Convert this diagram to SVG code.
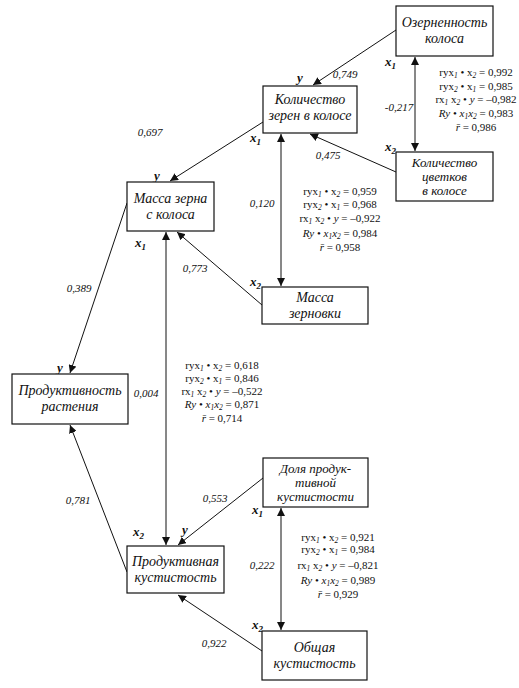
<svg xmlns="http://www.w3.org/2000/svg" width="519" height="688" viewBox="0 0 519 688">
<defs>
<marker id="ah" viewBox="0 0 10 10" refX="10" refY="5" markerWidth="8" markerHeight="8" markerUnits="userSpaceOnUse" orient="auto-start-reverse">
<path d="M0,0 L10,5 L0,10 Z" fill="#111"/>
</marker>
<style>
.box{fill:#fff;stroke:#111;stroke-width:1.2}
.nt{font-family:"Liberation Serif","DejaVu Serif",serif;font-style:italic;font-size:14px;fill:#111;text-anchor:middle}
.n3{font-size:13px}
.cl{font-family:"Liberation Serif","DejaVu Serif",serif;font-style:italic;font-size:11px;fill:#111;text-anchor:middle}
.vl{font-family:"Liberation Serif","DejaVu Serif",serif;font-style:italic;font-weight:bold;font-size:13px;fill:#111}
.st{font-family:"Liberation Serif","DejaVu Serif",serif;font-size:11px;fill:#111;text-anchor:middle}
.i{font-style:italic}
.s{font-size:7.5px;font-style:italic}
.c{stroke:#111;stroke-width:1;fill:none;marker-end:url(#ah)}
.d{marker-start:url(#ah)}
</style>
</defs>
<rect width="519" height="688" fill="#fff"/>

<g id="connectors">
<line class="c" x1="396" y1="30" x2="313" y2="85"/>
<line class="c d" x1="415" y1="57" x2="415" y2="151"/>
<line class="c" x1="396" y1="172" x2="310" y2="134"/>
<line class="c d" x1="281" y1="134" x2="281" y2="286"/>
<line class="c" x1="263" y1="122" x2="170" y2="181"/>
<line class="c" x1="262" y1="305" x2="177" y2="232"/>
<line class="c" x1="127" y1="203" x2="70" y2="373"/>
<line class="c d" x1="166" y1="232" x2="166" y2="545"/>
<line class="c" x1="127" y1="572" x2="70" y2="425"/>
<line class="c" x1="263" y1="478" x2="178" y2="545"/>
<line class="c d" x1="281" y1="508" x2="281" y2="630"/>
<line class="c" x1="262" y1="651" x2="178" y2="595"/>
</g>

<g id="coef-labels">
<text class="cl" x="345" y="78">0,749</text>
<text class="cl" x="399" y="111">-0,217</text>
<text class="cl" x="328" y="159">0,475</text>
<text class="cl" x="262" y="207">0,120</text>
<text class="cl" x="150" y="136">0,697</text>
<text class="cl" x="195" y="272">0,773</text>
<text class="cl" x="79" y="292">0,389</text>
<text class="cl" x="146" y="397">0,004</text>
<text class="cl" x="78" y="504">0,781</text>
<text class="cl" x="215" y="502">0,553</text>
<text class="cl" x="262" y="569">0,222</text>
<text class="cl" x="214" y="647">0,922</text>
</g>

<g id="var-labels">
<text class="vl" x="385" y="66">x<tspan font-size="9" dy="3">1</tspan></text>
<text class="vl" x="385" y="151">x<tspan font-size="9" dy="3">2</tspan></text>
<text class="vl" x="297" y="82">y</text>
<text class="vl" x="250" y="142">x<tspan font-size="9" dy="3">1</tspan></text>
<text class="vl" x="154" y="180">y</text>
<text class="vl" x="135" y="247">x<tspan font-size="9" dy="3">1</tspan></text>
<text class="vl" x="250" y="286">x<tspan font-size="9" dy="3">2</tspan></text>
<text class="vl" x="57" y="372">y</text>
<text class="vl" x="133" y="536">x<tspan font-size="9" dy="3">2</tspan></text>
<text class="vl" x="182" y="534">y</text>
<text class="vl" x="252" y="514">x<tspan font-size="9" dy="3">1</tspan></text>
<text class="vl" x="252" y="629">x<tspan font-size="9" dy="3">2</tspan></text>
</g>

<g id="node-ozer">
<rect class="box" x="396" y="6" width="97" height="50"/>
<text class="nt" x="444.5" y="27">Озерненность</text>
<text class="nt" x="444.5" y="43">колоса</text>
</g>
<g id="node-kolzeren">
<rect class="box" x="263" y="86" width="94" height="47"/>
<text class="nt" x="310" y="104">Количество</text>
<text class="nt" x="310" y="120">зерен в колосе</text>
</g>
<g id="node-cvetkov">
<rect class="box" x="396" y="152" width="97" height="49"/>
<text class="nt n3" x="444.5" y="167">Количество</text>
<text class="nt n3" x="444.5" y="181">цветков</text>
<text class="nt n3" x="444.5" y="195">в колосе</text>
</g>
<g id="node-massazerna">
<rect class="box" x="127" y="182" width="87" height="49"/>
<text class="nt" x="170.5" y="203">Масса зерна</text>
<text class="nt" x="170.5" y="219">с колоса</text>
</g>
<g id="node-massazernovki">
<rect class="box" x="262" y="287" width="106" height="37"/>
<text class="nt" x="315" y="302">Масса</text>
<text class="nt" x="315" y="318">зерновки</text>
</g>
<g id="node-produktivnost">
<rect class="box" x="12" y="374" width="116" height="50"/>
<text class="nt" x="70" y="395">Продуктивность</text>
<text class="nt" x="70" y="411">растения</text>
</g>
<g id="node-dolya">
<rect class="box" x="263" y="458" width="105" height="49"/>
<text class="nt n3" x="315.5" y="473">Доля продук-</text>
<text class="nt n3" x="315.5" y="487">тивной</text>
<text class="nt n3" x="315.5" y="501">кустистости</text>
</g>
<g id="node-produktivnaya">
<rect class="box" x="127" y="546" width="97" height="47"/>
<text class="nt" x="175.5" y="566">Продуктивная</text>
<text class="nt" x="175.5" y="582">кустистость</text>
</g>
<g id="node-obshaya">
<rect class="box" x="262" y="631" width="105" height="49"/>
<text class="nt" x="314.5" y="652">Общая</text>
<text class="nt" x="314.5" y="668">кустистость</text>
</g>

<g id="stats-1">
<text class="st" x="476" y="76">ryx<tspan class="s" dy="2">1</tspan><tspan dy="-2"> • x</tspan><tspan class="s" dy="2">2</tspan><tspan dy="-2"> = 0,992</tspan></text>
<text class="st" x="476" y="90">ryx<tspan class="s" dy="2">2</tspan><tspan dy="-2"> • x</tspan><tspan class="s" dy="2">1</tspan><tspan dy="-2"> = 0,985</tspan></text>
<text class="st" x="476" y="103">rx<tspan class="s" dy="2">1</tspan><tspan dy="-2"> x</tspan><tspan class="s" dy="2">2</tspan><tspan dy="-2"> • </tspan><tspan class="i">y</tspan> = –0,982</text>
<text class="st" x="476" y="117"><tspan class="i">Ry</tspan> • <tspan class="i">x</tspan><tspan class="s" dy="2">1</tspan><tspan class="i" dy="-2">x</tspan><tspan class="s" dy="2">2</tspan><tspan dy="-2"> = 0,983</tspan></text>
<text class="st" x="476" y="131"><tspan class="i">r̄</tspan> = 0,986</text>
</g>
<g id="stats-2">
<text class="st" x="340" y="195">ryx<tspan class="s" dy="2">1</tspan><tspan dy="-2"> • x</tspan><tspan class="s" dy="2">2</tspan><tspan dy="-2"> = 0,959</tspan></text>
<text class="st" x="340" y="208">ryx<tspan class="s" dy="2">2</tspan><tspan dy="-2"> • x</tspan><tspan class="s" dy="2">1</tspan><tspan dy="-2"> = 0,968</tspan></text>
<text class="st" x="340" y="222">rx<tspan class="s" dy="2">1</tspan><tspan dy="-2"> x</tspan><tspan class="s" dy="2">2</tspan><tspan dy="-2"> • </tspan><tspan class="i">y</tspan> = –0,922</text>
<text class="st" x="340" y="237"><tspan class="i">Ry</tspan> • <tspan class="i">x</tspan><tspan class="s" dy="2">1</tspan><tspan class="i" dy="-2">x</tspan><tspan class="s" dy="2">2</tspan><tspan dy="-2"> = 0,984</tspan></text>
<text class="st" x="340" y="251"><tspan class="i">r̄</tspan> = 0,958</text>
</g>
<g id="stats-3">
<text class="st" x="222" y="369">ryx<tspan class="s" dy="2">1</tspan><tspan dy="-2"> • x</tspan><tspan class="s" dy="2">2</tspan><tspan dy="-2"> = 0,618</tspan></text>
<text class="st" x="222" y="382">ryx<tspan class="s" dy="2">2</tspan><tspan dy="-2"> • x</tspan><tspan class="s" dy="2">1</tspan><tspan dy="-2"> = 0,846</tspan></text>
<text class="st" x="222" y="395">rx<tspan class="s" dy="2">1</tspan><tspan dy="-2"> x</tspan><tspan class="s" dy="2">2</tspan><tspan dy="-2"> • </tspan><tspan class="i">y</tspan> = –0,522</text>
<text class="st" x="222" y="408"><tspan class="i">Ry</tspan> • <tspan class="i">x</tspan><tspan class="s" dy="2">1</tspan><tspan class="i" dy="-2">x</tspan><tspan class="s" dy="2">2</tspan><tspan dy="-2"> = 0,871</tspan></text>
<text class="st" x="222" y="422"><tspan class="i">r̄</tspan> = 0,714</text>
</g>
<g id="stats-4">
<text class="st" x="338" y="541">ryx<tspan class="s" dy="2">1</tspan><tspan dy="-2"> • x</tspan><tspan class="s" dy="2">2</tspan><tspan dy="-2"> = 0,921</tspan></text>
<text class="st" x="338" y="553">ryx<tspan class="s" dy="2">2</tspan><tspan dy="-2"> • x</tspan><tspan class="s" dy="2">1</tspan><tspan dy="-2"> = 0,984</tspan></text>
<text class="st" x="338" y="569">rx<tspan class="s" dy="2">1</tspan><tspan dy="-2"> x</tspan><tspan class="s" dy="2">2</tspan><tspan dy="-2"> • </tspan><tspan class="i">y</tspan> = –0,821</text>
<text class="st" x="338" y="584"><tspan class="i">Ry</tspan> • <tspan class="i">x</tspan><tspan class="s" dy="2">1</tspan><tspan class="i" dy="-2">x</tspan><tspan class="s" dy="2">2</tspan><tspan dy="-2"> = 0,989</tspan></text>
<text class="st" x="338" y="598"><tspan class="i">r̄</tspan> = 0,929</text>
</g>
</svg>
